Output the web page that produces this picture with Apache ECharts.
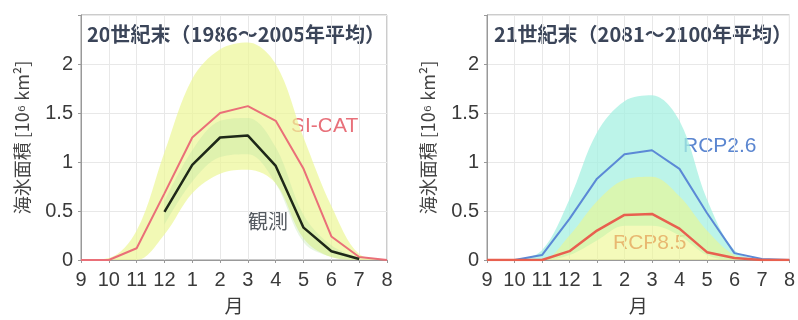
<!DOCTYPE html>
<html>
<head>
<meta charset="utf-8">
<script src="https://cdn.jsdelivr.net/npm/echarts@6/dist/echarts.min.js"></script>
<style>
html,body{margin:0;padding:0;background:#fff;}
#c{width:798px;height:320px;}
</style>
</head>
<body>
<div id="c"></div>
<script>
// ---- data ----
const months = ['9','10','11','12','1','2','3','4','5','6','7','8'];
const yTicks = [0, 0.5, 1, 1.5, 2];
const titleLeft = '20世紀末（1986～2005年平均）';
const titleRight = '21世紀末（2081～2100年平均）';
const yName = '海氷面積 [10⁶ km²]';
const xName = '月';

const sicat      = [0, 0, 0.12, 0.68, 1.25, 1.50, 1.57, 1.42, 0.93, 0.24, 0.03, 0];
const sicatUpper = [0, 0.02, 0.30, 1.10, 1.85, 2.15, 2.22, 2.00, 1.25, 0.55, 0.06, 0];
const sicatLower = [0, 0, 0, 0.26, 0.68, 0.88, 0.92, 0.78, 0.22, 0.03, 0, 0];
const obs        = [null, null, null, 0.49, 0.97, 1.25, 1.27, 0.96, 0.33, 0.09, 0.01, null];
const obsUpper   = [null, null, null, 0.60, 1.12, 1.42, 1.45, 1.15, 0.46, 0.15, 0.02, null];
const obsLower   = [null, null, null, 0.36, 0.80, 1.05, 1.08, 0.78, 0.18, 0.03, 0, null];

const rcp26      = [0, 0, 0.05, 0.42, 0.83, 1.08, 1.12, 0.93, 0.48, 0.07, 0.01, 0];
const rcp26Upper = [0, 0.01, 0.10, 0.62, 1.30, 1.62, 1.68, 1.42, 0.62, 0.10, 0.01, 0];
const rcp26Lower = [0, 0, 0, 0.05, 0.20, 0.35, 0.35, 0.25, 0.05, 0, 0, 0];
const rcp85      = [0, 0, 0, 0.09, 0.30, 0.46, 0.47, 0.32, 0.08, 0.02, 0, 0];
const rcp85Upper = [0, 0, 0, 0.25, 0.60, 0.82, 0.85, 0.65, 0.30, 0.05, 0, 0];
const rcp85Lower = [0, 0, 0, 0, 0, 0, 0, 0, 0, 0, 0, 0];

// ---- helpers ----
const numFont = '"Liberation Sans", Arial, sans-serif';
const cjkFont = '"Noto Sans CJK JP", sans-serif';
function diff(u, l){ return u.map((v,i)=> (v==null||l[i]==null) ? null : +(v - l[i]).toFixed(4)); }

function makeX(gi){
  return {
    type:'category', gridIndex:gi, data:months, boundaryGap:false,
    axisLine:{show:true, lineStyle:{color:'#999'}},
    axisTick:{show:true, length:3, lineStyle:{color:'#999'}},
    axisLabel:{color:'#3a3a3a', fontSize:20, fontFamily:numFont, margin:10, interval:0},
    splitLine:{show:true, lineStyle:{color:'#e8e8e8'}},
    name:xName, nameLocation:'middle', nameGap:36,
    nameTextStyle:{color:'#3a3a3a', fontSize:19, fontFamily:cjkFont}
  };
}
function makeY(gi){
  return {
    type:'value', gridIndex:gi, min:0, max:2.5, interval:0.5,
    axisLine:{show:true, lineStyle:{color:'#999'}},
    axisTick:{show:true, length:3, lineStyle:{color:'#999'}},
    axisLabel:{color:'#3a3a3a', fontSize:20, fontFamily:numFont, margin:8,
      formatter: v => yTicks.indexOf(v) >= 0 ? String(v) : ''},
    splitLine:{show:true, lineStyle:{color:'#e8e8e8'}},
    name:yName, nameLocation:'middle', nameGap:50, nameRotate:90,
    nameTextStyle:{color:'#444', fontSize:18, fontFamily:cjkFont}
  };
}
function band(gi, lower, upper, color, stack, z){
  return [
    {type:'line', xAxisIndex:gi, yAxisIndex:gi, stack:stack, data:lower, symbol:'none', smooth:0.35,
     lineStyle:{opacity:0}, silent:true, z:z},
    {type:'line', xAxisIndex:gi, yAxisIndex:gi, stack:stack, data:diff(upper, lower), symbol:'none', smooth:0.35,
     lineStyle:{opacity:0}, areaStyle:{color:color, opacity:1}, silent:true, z:z}
  ];
}
function line(gi, data, color, width){
  return {type:'line', xAxisIndex:gi, yAxisIndex:gi, data:data, symbol:'none',
    lineStyle:{color:color, width:width}, z:10, connectNulls:false};
}

const chart = echarts.init(document.getElementById('c'), null, {renderer:'canvas'});
chart.setOption({
  animation:false,
  backgroundColor:'#fff',
  grid:[
    {left:81, right:411, top:15, bottom:55, show:true, borderColor:'#999', borderWidth:1},
    {left:487, right:6, top:15, bottom:55, show:true, borderColor:'#999', borderWidth:1}
  ],
  xAxis:[makeX(0), makeX(1)],
  yAxis:[makeY(0), makeY(1)],
  series:[
    ...band(0, sicatLower, sicatUpper, 'rgba(236,246,150,0.7)', 'a', 2),
    ...band(0, obsLower, obsUpper, 'rgba(180,225,160,0.3)', 'b', 3),
    line(0, sicat, '#ea6f78', 2),
    line(0, obs, '#1e2818', 2.5),
    ...band(1, rcp26Lower, rcp26Upper, 'rgba(165,240,225,0.75)', 'c', 2),
    ...band(1, rcp85Lower, rcp85Upper, 'rgba(236,246,140,0.6)', 'd', 3),
    line(1, rcp26, '#5b89d6', 2),
    line(1, rcp85, '#e8604f', 2.5)
  ],
  graphic:[
    {type:'text', left:87, top:24, style:{text:titleLeft, fill:'#3b4559', font:'bold 20px "Noto Sans CJK JP", sans-serif'}},
    {type:'text', left:494, top:24, style:{text:titleRight, fill:'#3b4559', font:'bold 20px "Noto Sans CJK JP", sans-serif'}},
    {type:'text', left:291, top:116, style:{text:'SI-CAT', fill:'#e8707a', font:'21px "Liberation Sans", Arial, sans-serif'}},
    {type:'text', left:248, top:211, style:{text:'観測', fill:'#555a60', font:'20px "Noto Sans CJK JP", sans-serif'}},
    {type:'text', left:683, top:136, style:{text:'RCP2.6', fill:'#5b86d0', font:'21px "Liberation Sans", Arial, sans-serif'}},
    {type:'text', left:613, top:233, style:{text:'RCP8.5', fill:'#e05a48', font:'21px "Liberation Sans", Arial, sans-serif'}}
  ]
});
</script>
</body>
</html>
